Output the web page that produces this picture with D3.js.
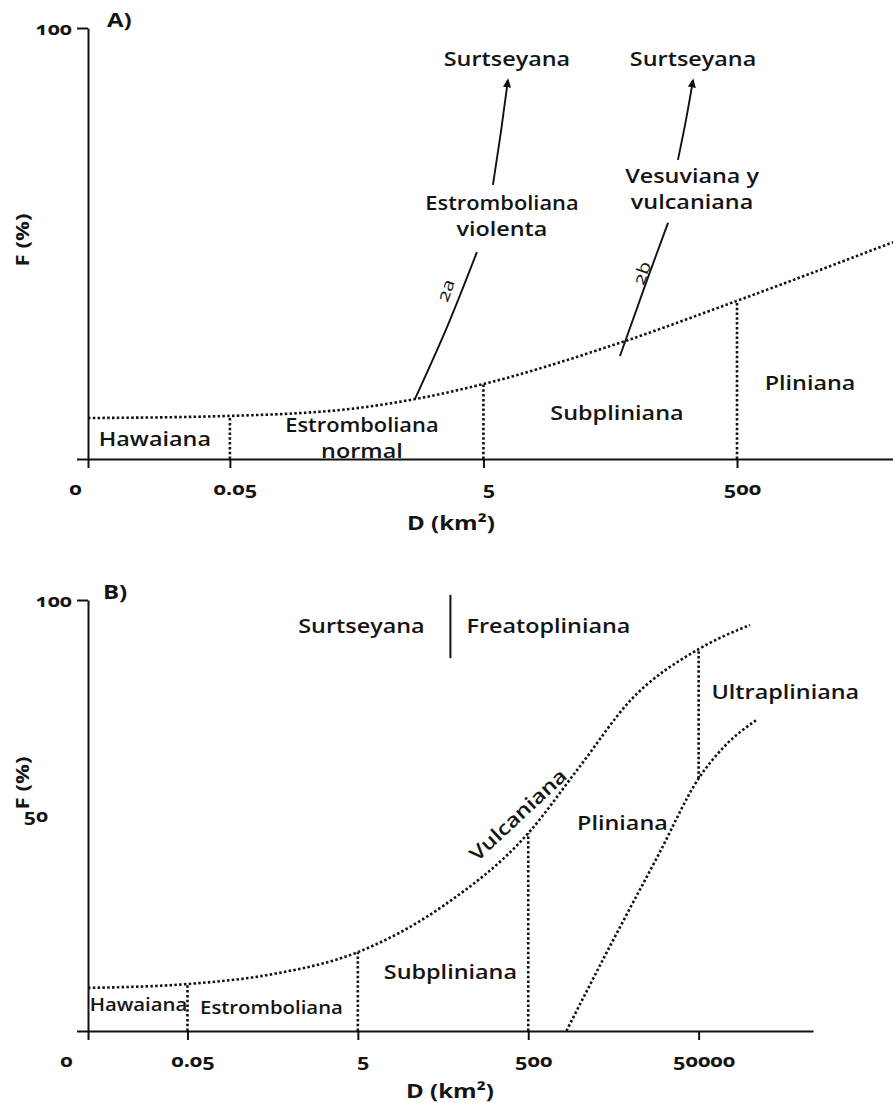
<!DOCTYPE html>
<html><head><meta charset="utf-8">
<script src="https://cdn.jsdelivr.net/npm/d3@7"></script>
<style>
html,body{margin:0;padding:0;background:#fff;}
svg{display:block;}
text{font-family:"Open Sans","Noto Sans",sans-serif;fill:#141414;font-variant-numeric:oldstyle-nums;}
</style></head><body>
<svg id="chart" width="893" height="1103"></svg>
<script>
// ---------- Panel A ----------
const domainDA = [0.0038, 8500];                 // "0" origin and right end of D axis
const tickDA = [0.05, 5, 500];
const curveDA = [0.0038, 0.05, 0.5, 1.44, 5, 50, 500, 8500];
const curveFA = [9.5, 10.0, 11.8, 13.9, 17.4, 26.2, 36.7, 50.3];
const boundDA = [0.05, 5, 500];
// branch 2a and its arrow towards Surtseyana
const path2aD = [1.44, 2.58, 4.44];
const path2aF = [13.9, 30.6, 48.0];
const arrow2aD = [5.94, 6.87, 7.8];
const arrow2aF = [63.6, 75.9, 87.9];
// branch 2b and its arrow
const path2bD = [59.7, 97.5, 142.8];
const path2bF = [23.9, 41.5, 54.8];
const arrow2bD = [171, 198, 225];
const arrow2bF = [69.4, 78.7, 87.9];
const labelsA = [
  {t:["Hawaiana"], d:0.0128, f:4.9},
  {t:["Estromboliana","normal"], d:0.55, f:5.0},
  {t:["Subpliniana"], d:56.5, f:10.9},
  {t:["Pliniana"], d:1884, f:17.9},
  {t:["Estromboliana","violenta"], d:7.0, f:56.6},
  {t:["Vesuviana y","vulcaniana"], d:221, f:62.8},
  {t:["Surtseyana"], d:7.66, f:93.0},
  {t:["Surtseyana"], d:225, f:93.0}
];
const branchLabelsA = [
  {t:"2a", d:2.48, f:39.2, a:-70},
  {t:"2b", d:87.5, f:43.2, a:-70}
];

// ---------- Panel B ----------
const domainDB = [0.0034, 1.1e6];
const tickDB = [0.05, 5, 500, 50000];
const upperDB = [0.0034, 0.05, 0.5, 5, 50, 500, 2000, 8000, 50000, 200000];
const upperFB = [10.0, 10.9, 13.2, 18.3, 29.0, 45.9, 61.3, 76.8, 88.6, 94.2];
const lowerDB = [1400, 4500, 17000, 50000, 100000, 240000];
const lowerFB = [0, 19.5, 41, 58.6, 66, 72.2];
const boundDB = [0.05, 5, 500];
const ultraBoundD = 50000;
const dividerDB = 61;            // Surtseyana | Freatopliniana separator
const dividerFB = [86.5, 101.2];
const labelsB = [
  {t:["Surtseyana"], d:5.51, f:94.2},
  {t:["Freatopliniana"], d:863, f:94.2},
  {t:["Ultrapliniana"], d:5.2e5, f:78.9},
  {t:["Pliniana"], d:6380, f:48.5},
  {t:["Subpliniana"], d:61, f:13.9},
  {t:["Hawaiana"], d:0.0133, f:6.3, small:true},
  {t:["Estromboliana"], d:0.484, f:5.6, small:true}
];
const rotatedLabelB = {t:"Vulcaniana", d:373, f:50.3, a:-43};

const yTicksLabelled = [100];

// ---------- drawing ----------
const svg = d3.select("#chart");
const SX = 1.2;   // horizontal glyph stretch
const ink = "#111";

const defs = svg.append("defs");
defs.append("marker").attr("id","arrowhead")
  .attr("viewBox","0 0 10 10").attr("refX",8).attr("refY",5)
  .attr("markerWidth",9).attr("markerHeight",9)
  .attr("markerUnits","userSpaceOnUse").attr("orient","auto")
  .append("path").attr("d","M0,0.5 L10,5 L0,9.5 Z").attr("fill",ink);

function put(g, str, x, y, o = {}) {
  const size = o.size || 19.5, weight = o.weight || 600, rot = o.rotate || 0;
  return g.append("text")
    .attr("transform", `translate(${x},${y}) rotate(${rot}) scale(${o.sx || SX},1)`)
    .attr("text-anchor", o.anchor || "middle")
    .attr("dominant-baseline", "central")
    .style("font-size", size + "px").style("font-weight", weight)
    .text(str);
}
const zip = (a, b) => a.map((v, i) => [v, b[i]]);
const dotted = g => g.attr("fill","none").attr("stroke",ink)
  .attr("stroke-width",2.6).attr("stroke-dasharray","2.5,2.3");

function frame(g, x, y, ticksD, origin, zeroDx) {
  const x0 = y.range()[0];
  // y axis
  const ya = g.append("g").attr("transform", `translate(${x.range()[0]},0)`)
    .call(d3.axisLeft(y).tickValues([0, 100]).tickSize(11).tickSizeOuter(0).tickFormat(""));
  // x axis
  const xa = g.append("g").attr("transform", `translate(0,${x0})`)
    .call(d3.axisBottom(x).tickValues([origin, ...ticksD]).tickSize(9).tickSizeOuter(0)
      .tickFormat(d => d === origin ? "0" : d3.format("~g")(d)));
  [ya, xa].forEach(a => {
    a.selectAll("path,line").attr("stroke", ink).attr("stroke-width", 2);
  });
  xa.selectAll("text").attr("y", 29).attr("dy", null)
    .attr("dominant-baseline","central")
    .attr("transform", d => `translate(${d === origin ? zeroDx : 5},0) scale(${SX},1)`)
    .style("font-size","18px").style("font-weight",700).attr("fill", ink);
}

function panel(cfg) {
  const g = svg.append("g");
  const x = d3.scaleLog().domain(cfg.domainD).range(cfg.xr);
  const y = d3.scaleLinear().domain([0, 100]).range(cfg.yr);
  frame(g, x, y, cfg.ticksD, cfg.domainD[0], cfg.zeroDx);
  // y tick labels
  yTicksLabelled.forEach(v => put(g, v, x.range()[0] - 16, y(v), {anchor:"end", size:17.5, weight:700}));
  (cfg.extraY || []).forEach(v => put(g, v, cfg.extraYx, y(v), {anchor:"end", size:17.5, weight:700}));
  // titles
  put(g, cfg.tag, cfg.tagX, y(100) - 9, {anchor:"start", size:20, weight:700});
  put(g, "F (%)", 22, cfg.fLabelY, {rotate:-90, size:18.5, weight:700});
  put(g, "D (km²)", cfg.dLabelX, y(0) + cfg.dLabelDy, {size:20, weight:700});
  return {g, x, y};
}

const line = (x, y, c) => d3.line().x(d => x(d[0])).y(d => y(d[1])).curve(c || d3.curveMonotoneX);

// ----- A -----
{
  const {g, x, y} = panel({domainD:domainDA, xr:[88, 893], yr:[459, 28], ticksD:tickDA,
    zeroDx:-13, tag:"A)", tagX:107, fLabelY:240, dLabelX:451, dLabelDy:63});
  const cA = zip(curveDA, curveFA);
  g.append("path").datum(cA).attr("d", line(x, y)).call(dotted);
  boundDA.forEach(d => {
    const f = curveFA[curveDA.indexOf(d)];
    g.append("line").attr("x1", x(d)).attr("x2", x(d)).attr("y1", y(0)).attr("y2", y(f)).call(dotted);
  });
  [[path2aD, path2aF, false], [arrow2aD, arrow2aF, true], [path2bD, path2bF, false], [arrow2bD, arrow2bF, true]]
    .forEach(([ds, fs, arr]) => {
      const p = g.append("path").datum(zip(ds, fs)).attr("d", line(x, y, d3.curveNatural))
        .attr("fill","none").attr("stroke", ink).attr("stroke-width", 1.9);
      if (arr) p.attr("marker-end","url(#arrowhead)");
    });
  labelsA.forEach(l => {
    const n = l.t.length;
    l.t.forEach((s, i) => put(g, s, x(l.d), y(l.f) + (i - (n - 1) / 2) * 26,
      s === "Estromboliana" ? {sx:1.12} : {}));
  });
  branchLabelsA.forEach(l => put(g, l.t, x(l.d), y(l.f), {rotate:l.a, size:17, weight:500}));
}

// ----- B -----
{
  const {g, x, y} = panel({domainD:domainDB, xr:[88, 813], yr:[1031, 600], ticksD:tickDB,
    zeroDx:-22, tag:"B)", tagX:103, fLabelY:783, dLabelX:450, dLabelDy:59,
    extraY:[50], extraYx:48});
  const up = zip(upperDB, upperFB), lo = zip(lowerDB, lowerFB);
  g.append("path").datum(up).attr("d", line(x, y)).call(dotted);
  g.append("path").datum(lo).attr("d", line(x, y)).call(dotted);
  boundDB.forEach(d => {
    const f = upperFB[upperDB.indexOf(d)];
    g.append("line").attr("x1", x(d)).attr("x2", x(d)).attr("y1", y(0)).attr("y2", y(f)).call(dotted);
  });
  g.append("line").attr("x1", x(ultraBoundD)).attr("x2", x(ultraBoundD))
    .attr("y1", y(lowerFB[lowerDB.indexOf(ultraBoundD)])).attr("y2", y(upperFB[upperDB.indexOf(ultraBoundD)]))
    .call(dotted);
  g.append("line").attr("x1", x(dividerDB)).attr("x2", x(dividerDB))
    .attr("y1", y(dividerFB[0])).attr("y2", y(dividerFB[1]))
    .attr("stroke", ink).attr("stroke-width", 2);
  labelsB.forEach(l => put(g, l.t[0], x(l.d), y(l.f), l.small ? {size:18.5, sx:1.1} : {}));
  put(g, rotatedLabelB.t, x(rotatedLabelB.d), y(rotatedLabelB.f), {rotate:rotatedLabelB.a});
}
</script>
</body></html>
